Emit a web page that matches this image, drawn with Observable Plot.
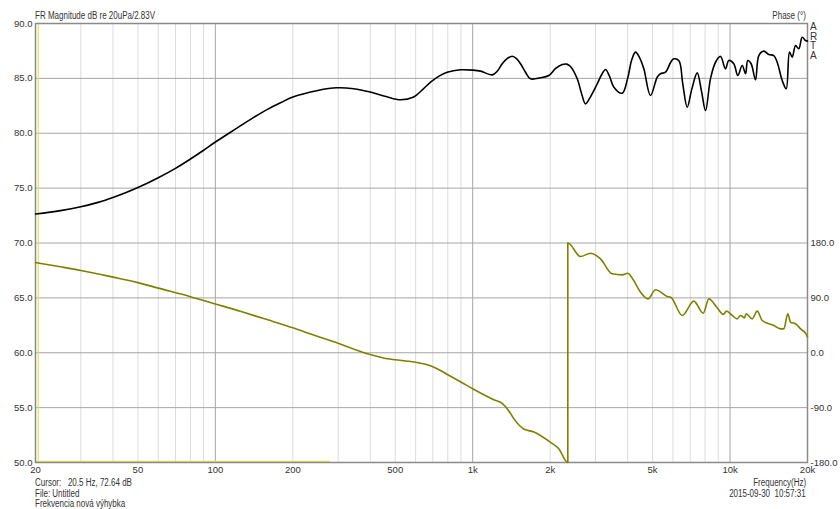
<!DOCTYPE html>
<html>
<head>
<meta charset="utf-8">
<script src="https://cdn.jsdelivr.net/npm/d3@7"></script>
<script src="https://cdn.jsdelivr.net/npm/@observablehq/plot@0.6"></script>
<style>
  html, body { margin: 0; padding: 0; background: #fff; }
  #wrap { position: relative; width: 840px; height: 509px; font-family: "Liberation Sans", Arial, sans-serif; font-size: 10px; color: #333; }
  .t { position: absolute; white-space: pre; line-height: 11px; }
  .l { transform: scaleX(0.8); transform-origin: left center; }
  .r { transform: scaleX(0.8); transform-origin: right center; }
</style>
</head>
<body>
<div id="wrap"></div>
<script>
// ---- data ----
const magFreq = [20,25,30,35,40,45,50,60,70,80,90,100,120,140,160,180,200,250,297,345,400,460,524,590,640,686,740,796,896,1000,1072,1191,1250,1302,1360,1424,1480,1534,1600,1677,1834,1976,2100,2228,2320,2399,2548,2650,2744,2850,3047,3180,3282,3400,3537,3811,4000,4150,4292,4450,4624,4908,5212,5368,5612,5883,6048,6330,6550,6817,7100,7454,7750,8031,8400,8783,9184,9600,9892,10340,10720,11150,11490,11720,12080,12560,12940,13530,14150,14800,15250,15950,16530,17030,17440,17970,18500,19070,19650,20000];
const magDb = [72.64,72.95,73.3,73.7,74.15,74.6,75.05,75.95,76.8,77.65,78.45,79.2,80.4,81.4,82.2,82.8,83.3,83.9,84.14,84.05,83.75,83.35,83.05,83.3,84.0,84.65,85.2,85.56,85.78,85.75,85.66,85.32,85.7,86.33,86.8,87.02,86.8,86.33,85.6,84.96,85.05,85.26,85.9,86.26,86.3,86.08,84.96,83.6,82.68,83.2,84.5,85.4,85.81,85.2,84.2,83.65,85.0,86.7,87.39,86.9,85.87,83.44,85.1,85.42,85.56,86.47,86.78,86.6,84.5,82.37,84.0,85.5,83.8,82.07,85.0,86.47,87.0,85.87,86.63,86.33,85.26,86.17,85.42,86.63,86.33,84.87,87.08,87.48,87.17,87.08,86.47,84.81,84.05,87.39,86.93,88.0,87.7,88.75,88.45,88.4];

const phaseFreq = [20,25,30,40,50,60,80,100,125,154,200,241,300,350,400,450,500,550,600,650,700,750,800,900,1000,1208,1302,1380,1444,1580,1730,2006,2160,2342,2342,2624,2870,3138,3484,3811,4006,4200,4490,4800,5134,5700,5883,6520,7231,7870,8270,8916,9410,9690,10200,10660,10980,11380,11550,12190,12750,13340,14800,15700,16180,16770,17180,17970,18800,19700,20000];
const phaseDeg = [148,141,135,124,115,106,92,80,68,56,41,29,15.5,5,-3,-8.5,-11.5,-13.5,-15.5,-18.5,-23,-29,-36,-48,-59,-77,-83,-95,-108,-125,-130,-147,-157.5,-180,180,157.8,163.3,154,129.5,127.8,130.5,120,99.4,88.3,103.3,92.3,91,61.2,84.6,64.8,88.3,73.7,62.9,68.3,61.2,55.6,61.2,57.2,63.9,55.6,68.3,52.9,44.7,39.2,39.2,63.9,50,47.5,39.2,31.2,25.6];

const xTicks = [20,50,100,200,500,1000,2000,5000,10000,20000];
const dbTicks = [50,55,60,65,70,75,80,85,90];
const phaseTicksDb = [50,55,60,65,70]; // positions of -180..180 on the dB scale
const majorGrid = [100,1000,10000];
const minorGrid = [30,40,50,60,70,80,90,200,300,400,500,600,700,800,900,2000,3000,4000,5000,6000,7000,8000,9000];
const hGrid = [55,60,65,70,75,80,85];
const cursorFreq = [20.5];
const cursorBand = [{x1: 20, x2: 280}];

const mag = magFreq.map((f, i) => ({f, db: magDb[i]}));
const phase = phaseFreq.map((f, i) => ({f, p: phaseDeg[i]}));
const phaseToDb = p => 60 + p / 18;

const fmtHz = d => d >= 1000 ? (d / 1000) + "k" : String(d);

const chart = Plot.plot({
  width: 840,
  height: 509,
  marginLeft: 35,
  marginRight: 33,
  marginTop: 23,
  marginBottom: 47,
  style: {fontFamily: '"Liberation Sans", Arial, sans-serif', fontSize: "9.5px", color: "#333", background: "#fff"},
  x: {type: "log", domain: [20, 20000], axis: null},
  y: {domain: [50, 90], axis: null},
  marks: [
    Plot.ruleX(minorGrid, {stroke: "#dcdcdc", strokeWidth: 1}),
    Plot.ruleX(majorGrid, {stroke: "#a6a6a6", strokeWidth: 1}),
    Plot.ruleY(hGrid, {stroke: "#a6a6a6", strokeWidth: 1}),
    Plot.ruleX(cursorFreq, {stroke: "#e6e650", strokeWidth: 1.2}),
    Plot.ruleY(cursorBand, {y: 50.1, x1: "x1", x2: "x2", stroke: "#e6e650", strokeWidth: 1.5}),
    Plot.frame({stroke: "#8a8a8a", strokeWidth: 1.5}),
    Plot.text(xTicks, {x: d => d, text: fmtHz, frameAnchor: "bottom", lineAnchor: "top", dy: 4, fill: "#333"}),
    Plot.axisY({ticks: dbTicks, tickFormat: d => d.toFixed(1), tickSize: 0, tickPadding: 3, label: null, fill: "#333"}),
    Plot.axisY({anchor: "right", ticks: phaseTicksDb, tickFormat: d => ((d - 60) * 18).toFixed(1), tickSize: 0, tickPadding: 3, label: null, fill: "#333"}),
    Plot.line(phase, {x: "f", y: d => phaseToDb(d.p), stroke: "#808000", strokeWidth: 1.6, curve: "monotone-x"}),
    Plot.line(mag, {x: "f", y: "db", stroke: "#000", strokeWidth: 1.6, curve: "catmull-rom"})
  ]
});

const wrap = document.getElementById("wrap");
wrap.appendChild(chart);

function addText(txt, css, cls) {
  const d = document.createElement("div");
  d.className = "t " + (cls || "");
  d.textContent = txt;
  Object.assign(d.style, css);
  wrap.appendChild(d);
}
addText("FR Magnitude dB re 20uPa/2.83V", {left: "35px", top: "10px"}, "l");
addText("Phase (°)", {right: "34px", top: "10px"}, "r");
addText("A\nR\nT\nA", {left: "810px", top: "22px", lineHeight: "9.5px"});
addText("Cursor:   20.5 Hz, 72.64 dB", {left: "35px", top: "477px"}, "l");
addText("File: Untitled", {left: "35px", top: "488px"}, "l");
addText("Frekvencia nová výhybka", {left: "35px", top: "498px"}, "l");
addText("Frequency(Hz)", {right: "34px", top: "477px"}, "r");
addText("2015-09-30  10:57:31", {right: "34px", top: "488px"}, "r");
</script>
</body>
</html>
